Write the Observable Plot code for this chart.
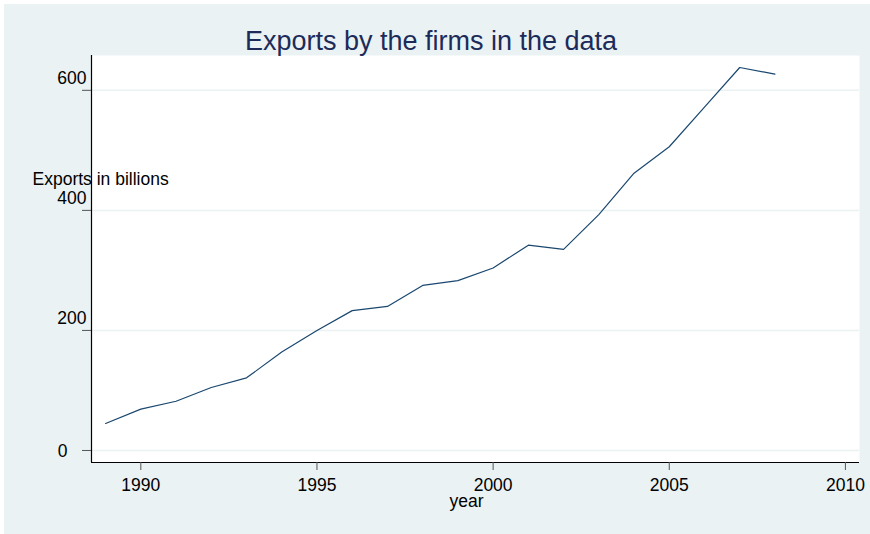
<!DOCTYPE html>
<html><head><meta charset="utf-8">
<script src="https://cdn.jsdelivr.net/npm/d3@7"></script>
<script src="https://cdn.jsdelivr.net/npm/@observablehq/plot@0.6"></script>
<style>
body{margin:0;background:#fff;}
#wrap{position:absolute;left:4px;top:4px;width:866px;height:530px;background:#eaf2f3;overflow:hidden;}
#chart{position:absolute;left:-4px;top:-4px;}
</style></head><body><div id="wrap"><div id="chart"></div></div>
<script>
const years = [1989,1990,1991,1992,1993,1994,1995,1996,1997,1998,1999,2000,2001,2002,2003,2004,2005,2006,2007,2008];
const exportsBn = [45,69,82,105,121,164,200,233,240,275,283,304,342,335,393,462,506,572,638,627];
const xTicks = [1990,1995,2000,2005,2010];
const yTicks = [0,200,400,600];
const titleText = "Exports by the firms in the data";
const yTitle = "Exports in billions";
const xTitle = "year";

const data = years.map((y,i)=>({year:y, value:exportsBn[i]}));
const xDomain = [1988.6, 2010.4];
const yDomain = [-20, 658];
const font = "'Liberation Sans', Arial, sans-serif";

const chart = Plot.plot({
  width: 870, height: 534,
  marginLeft: 91, marginRight: 11, marginTop: 55, marginBottom: 72,
  style: {background: "transparent", fontFamily: font, fontSize: "17.5px", color: "#000"},
  x: {domain: xDomain},
  y: {domain: yDomain},
  marks: [
    Plot.frame({fill: "white", stroke: null}),
    Plot.gridY(yTicks, {stroke: "#eaf2f3", strokeOpacity: 1, strokeWidth: 1.5}),
    Plot.ruleX([xDomain[0]], {stroke: "#000", strokeWidth: 1.2}),
    Plot.ruleY([yDomain[0]], {stroke: "#000", strokeWidth: 1.2}),
    Plot.axisY(yTicks, {tickSize: 9, stroke: "#555", text: null, label: null}),
    Plot.text(yTicks.filter(d => d !== 0), {y: d => d, text: d => String(d), frameAnchor: "left", textAnchor: "end", lineAnchor: "bottom", dx: -5, dy: -6, fill: "#000", fontSize: 17.5}),
    Plot.text(yTicks.filter(d => d === 0), {y: d => d, text: d => String(d), frameAnchor: "left", textAnchor: "end", lineAnchor: "bottom", dx: -24, dy: 7, fill: "#000", fontSize: 17.5}),
    Plot.axisX(xTicks, {tickSize: 8, tickPadding: 8, stroke: "#555", fill: "#000", label: null, tickFormat: d => String(d), fontSize: 17.5}),
    Plot.line(data, {x: "year", y: "value", stroke: "#1a476f", strokeWidth: 1.2}),
    Plot.text([titleText], {frameAnchor: "top", lineAnchor: "bottom", dy: -6, dx: -44.5, fill: "#1c2b59", fontSize: 27, text: d => d}),
    Plot.text([yTitle], {frameAnchor: "top-left", textAnchor: "start", lineAnchor: "bottom", dx: -59, dy: 129, fill: "#000", fontSize: 17.5, text: d => d}),
    Plot.text([xTitle], {frameAnchor: "bottom", lineAnchor: "bottom", dx: -9, dy: 44, fill: "#000", fontSize: 17.5, text: d => d})
  ]
});
document.getElementById("chart").appendChild(chart);
</script></body></html>
